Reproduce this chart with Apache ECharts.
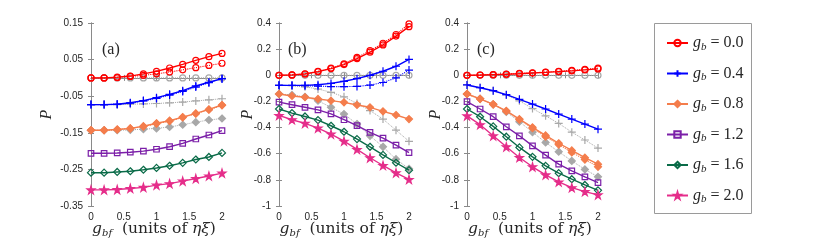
<!DOCTYPE html>
<html><head><meta charset="utf-8">
<script src="https://cdn.jsdelivr.net/npm/echarts@6/dist/echarts.min.js"></script>
<style>html,body{margin:0;padding:0;background:#fff}#c{width:830px;height:248px}</style>
</head><body><div id="c"></div>
<script>
const xs = [0, 0.2, 0.4, 0.6, 0.8, 1.0, 1.2, 1.4, 1.6, 1.8, 2.0];
const xTicks = ['0', '0.5', '1', '1.5', '2'];
const gbLabels = ['0.0', '0.4', '0.8', '1.2', '1.6', '2.0'];
const panelLabels = ['(a)', '(b)', '(c)'];

// Panel (a)
const a_g00 = [0, 0, 0.002, 0.005, 0.011, 0.018, 0.027, 0.037, 0.048, 0.058, 0.067];
const a_g00d = [0, 0, 0.001, 0.004, 0.007, 0.011, 0.016, 0.022, 0.028, 0.034, 0.040];
const a_g04 = [-0.073, -0.073, -0.072, -0.068, -0.062, -0.054, -0.045, -0.035, -0.022, -0.012, -0.002];
const a_g04d = [-0.073, -0.073, -0.072, -0.069, -0.063, -0.056, -0.047, -0.037, -0.025, -0.013, -0.002];
const a_g08 = [-0.143, -0.143, -0.141, -0.138, -0.132, -0.124, -0.117, -0.107, -0.097, -0.086, -0.074];
const a_g08d = [-0.143, -0.143, -0.141, -0.138, -0.133, -0.125, -0.118, -0.108, -0.098, -0.087, -0.075];
const a_g12 = [-0.206, -0.206, -0.205, -0.203, -0.200, -0.195, -0.188, -0.179, -0.167, -0.156, -0.144];
const a_g16 = [-0.259, -0.259, -0.257, -0.255, -0.251, -0.246, -0.240, -0.232, -0.223, -0.216, -0.205];
const a_g20 = [-0.306, -0.306, -0.305, -0.302, -0.299, -0.293, -0.289, -0.282, -0.275, -0.268, -0.260];
const a_grayC = [0, 0, 0, 0, 0, 0, 0, 0, 0, 0, 0];
const a_grayP = [-0.073, -0.073, -0.073, -0.072, -0.071, -0.070, -0.068, -0.066, -0.063, -0.060, -0.057];
const a_grayD = [-0.143, -0.143, -0.143, -0.142, -0.140, -0.138, -0.134, -0.128, -0.121, -0.115, -0.111];

// Panel (b)
const b_g00 = [0, 0.003, 0.010, 0.028, 0.051, 0.082, 0.128, 0.177, 0.232, 0.300, 0.372];
const b_g00d = [0, 0.003, 0.011, 0.030, 0.055, 0.088, 0.137, 0.188, 0.245, 0.312, 0.394];
const b_g04 = [-0.077, -0.077, -0.077, -0.072, -0.062, -0.046, -0.026, 0.000, 0.031, 0.069, 0.121];
const b_g04d = [-0.077, -0.078, -0.080, -0.083, -0.086, -0.087, -0.085, -0.075, -0.055, -0.020, 0.040];
const b_g08 = [-0.143, -0.158, -0.168, -0.181, -0.194, -0.207, -0.227, -0.245, -0.276, -0.304, -0.335];
const b_g12 = [-0.205, -0.225, -0.245, -0.265, -0.295, -0.340, -0.385, -0.437, -0.480, -0.534, -0.591];
const b_g16 = [-0.258, -0.289, -0.315, -0.343, -0.386, -0.432, -0.488, -0.547, -0.609, -0.669, -0.726];
const b_g20 = [-0.307, -0.340, -0.368, -0.404, -0.450, -0.504, -0.567, -0.631, -0.690, -0.746, -0.797];
const b_grayC = [0, 0, 0, 0, 0, 0, 0, 0, 0, 0, 0];
const b_grayP = [-0.077, -0.080, -0.088, -0.105, -0.130, -0.165, -0.215, -0.270, -0.335, -0.420, -0.505];
const b_grayD = [-0.143, -0.150, -0.165, -0.195, -0.245, -0.297, -0.373, -0.463, -0.547, -0.642, -0.715];

// Panel (c)
const c_g00 = [0, 0.002, 0.005, 0.008, 0.012, 0.017, 0.022, 0.028, 0.034, 0.041, 0.049];
const c_g00d = [0, 0.002, 0.005, 0.009, 0.014, 0.019, 0.025, 0.031, 0.038, 0.045, 0.055];
const c_g04 = [-0.074, -0.095, -0.118, -0.148, -0.184, -0.220, -0.258, -0.297, -0.335, -0.373, -0.412];
const c_g08 = [-0.143, -0.180, -0.222, -0.272, -0.335, -0.398, -0.460, -0.520, -0.575, -0.630, -0.680];
const c_g08d = [-0.143, -0.180, -0.222, -0.275, -0.340, -0.405, -0.470, -0.530, -0.590, -0.645, -0.700];
const c_g12 = [-0.202, -0.258, -0.317, -0.394, -0.463, -0.540, -0.611, -0.680, -0.731, -0.777, -0.821];
const c_g16 = [-0.258, -0.317, -0.391, -0.470, -0.552, -0.624, -0.693, -0.749, -0.795, -0.839, -0.880];
const c_g20 = [-0.310, -0.378, -0.463, -0.547, -0.629, -0.700, -0.762, -0.816, -0.860, -0.890, -0.915];
const c_grayC = [0, 0, 0, 0, 0, 0, 0, 0, 0, 0, 0];
const c_grayP = [-0.074, -0.095, -0.118, -0.150, -0.195, -0.255, -0.310, -0.368, -0.435, -0.495, -0.557];
const c_grayD = [-0.143, -0.180, -0.222, -0.280, -0.355, -0.435, -0.514, -0.585, -0.655, -0.720, -0.777];

const COLORS = ['#ff0000', '#0000ff', '#f47d4c', '#7b1fa8', '#0a6b48', '#e52d8a'];
const GRAY = '#a8a8a8';
const PLUS = 'path://M0,5L10,5M5,0L5,10';
const STAR = 'path://M50,0L61,35L98,35L68,57L79,91L50,70L21,91L32,57L2,35L39,35Z';
const SYM = [
  {symbol: 'circle', size: 6, open: true},
  {symbol: PLUS, size: 8, open: true},
  {symbol: 'diamond', size: 7, open: false},
  {symbol: 'rect', size: 5.5, open: true},
  {symbol: 'diamond', size: 7, open: true},
  {symbol: STAR, size: 8, open: false}
];
const NAMES = ['gb00', 'gb04', 'gb08', 'gb12', 'gb16', 'gb20'];

function pts(v) { return xs.map((x, i) => [x, v[i]]); }
function ser(name, vals, p, k, color, type, lw) {
  const s = SYM[k];
  return {
    name: name, type: 'line', xAxisIndex: 2 * p, yAxisIndex: 2 * p,
    data: pts(vals), symbol: s.symbol, symbolSize: s.size, showSymbol: true,
    lineStyle: {color: color, width: lw, type: type},
    itemStyle: {color: s.open ? 'rgba(255,255,255,0)' : color, borderColor: color, borderWidth: 1.2},
    emphasis: {disabled: true}, z: type === 'solid' ? 3 : 2
  };
}

const panels = [
  {main: [a_g00, a_g04, a_g08, a_g12, a_g16, a_g20], dots: [[0, a_g00d], [1, a_g04d], [2, a_g08d]], gray: [a_grayC, a_grayP, a_grayD], min: -0.35, max: 0.15, iv: 0.1},
  {main: [b_g00, b_g04, b_g08, b_g12, b_g16, b_g20], dots: [[0, b_g00d], [1, b_g04d]], gray: [b_grayC, b_grayP, b_grayD], min: -1, max: 0.4, iv: 0.2},
  {main: [c_g00, c_g04, c_g08, c_g12, c_g16, c_g20], dots: [[0, c_g00d], [2, c_g08d]], gray: [c_grayC, c_grayP, c_grayD], min: -1, max: 0.4, iv: 0.2}
];
const gridPos = [{left: 91, width: 131, pGap: 36, lab: 11}, {left: 279, width: 130, pGap: 23, lab: 9}, {left: 467, width: 131, pGap: 23, lab: 10}];

const serif = 'Liberation Serif';
const grids = [], xAxes = [], yAxes = [], series = [], titles = [];
const axisLineCol = '#8a8a8a';
panels.forEach((P, p) => {
  grids.push({left: gridPos[p].left, width: gridPos[p].width, top: 23, height: 183});
  xAxes.push({
    type: 'value', gridIndex: p, min: 0, max: 2, interval: 0.5, position: 'bottom',
    axisLine: {lineStyle: {color: axisLineCol}}, axisTick: {inside: true, length: 3, lineStyle: {color: axisLineCol}},
    splitLine: {show: false},
    axisLabel: {color: '#262626', fontSize: 10, fontFamily: 'Liberation Sans', margin: 6, formatter: v => xTicks[Math.round(v / 0.5)]},
    name: '{g|g}{s|bf}{n|  (units of }{g|ηξ}{n|)}', nameLocation: 'middle', nameGap: 14, nameMoveOverlap: false,
    nameTextStyle: {padding: [0, 5, 0, 0], rich: {
      g: {fontFamily: 'DejaVu Serif', fontStyle: 'italic', fontSize: 15.5, color: '#262626'},
      s: {fontFamily: 'DejaVu Serif', fontStyle: 'italic', fontSize: 10, color: '#262626', padding: [8, 0, 0, 0]},
      n: {fontFamily: 'DejaVu Serif', fontSize: 15.5, color: '#262626'}
    }}
  });
  xAxes.push({
    type: 'value', gridIndex: p, min: 0, max: 2, interval: 0.5, position: 'top',
    axisLine: {lineStyle: {color: axisLineCol}}, axisTick: {inside: true, length: 3, lineStyle: {color: axisLineCol}},
    axisLabel: {show: false}, splitLine: {show: false}
  });
  yAxes.push({
    type: 'value', gridIndex: p, min: P.min, max: P.max, interval: P.iv, position: 'left',
    axisLine: {show: true, lineStyle: {color: axisLineCol}}, axisTick: {show: true, inside: true, length: 3, lineStyle: {color: axisLineCol}},
    splitLine: {show: false},
    axisLabel: {color: '#262626', fontSize: 10, fontFamily: 'Liberation Sans', margin: 8, formatter: v => String(Math.round(v * 100) / 100)},
    name: 'P', nameLocation: 'middle', nameGap: gridPos[p].pGap, nameRotate: 90, nameMoveOverlap: false,
    nameTextStyle: {fontFamily: serif, fontStyle: 'italic', fontSize: 16, color: '#262626'}
  });
  yAxes.push({
    type: 'value', gridIndex: p, min: P.min, max: P.max, interval: P.iv, position: 'right',
    axisLine: {show: true, lineStyle: {color: axisLineCol}}, axisTick: {show: true, inside: true, length: 3, lineStyle: {color: axisLineCol}},
    axisLabel: {show: false}, splitLine: {show: false}
  });
  titles.push({text: panelLabels[p], left: gridPos[p].left + gridPos[p].lab, top: 42, padding: 0,
    textStyle: {fontFamily: serif, fontWeight: 'normal', fontSize: 16, color: '#262626'}});
  P.gray.forEach((g, k) => series.push(ser('gray' + p + k, g, p, k, GRAY, 'dotted', 1)));
  P.dots.forEach(([k, v]) => series.push(ser(NAMES[k] + 'd' + p, v, p, k, COLORS[k], 'dotted', 1.1)));
  P.main.forEach((v, k) => series.push(ser(NAMES[k], v, p, k, COLORS[k], 'solid', 1.4)));
});

const chart = echarts.init(document.getElementById('c'), null, {renderer: 'canvas'});
chart.setOption({
  animation: false,
  backgroundColor: '#fff',
  title: titles,
  grid: grids, xAxis: xAxes, yAxis: yAxes, series: series,
  graphic: [{type: 'rect', z: 0, shape: {x: 654.5, y: 23.5, width: 97, height: 190}, style: {fill: '#fff', stroke: '#9a9a9a', lineWidth: 1}}],
  legend: {
    data: NAMES, orient: 'vertical', left: 661, top: 30, itemWidth: 21, itemHeight: 8, itemGap: 13,
    selectedMode: false,
    formatter: n => '{g|g}{s|b}{n| = ' + gbLabels[NAMES.indexOf(n)] + '}',
    textStyle: {rich: {
      g: {fontFamily: serif, fontStyle: 'italic', fontSize: 16, color: '#262626'},
      s: {fontFamily: serif, fontStyle: 'italic', fontSize: 11, color: '#262626', padding: [8, 0, 0, 0]},
      n: {fontFamily: serif, fontSize: 16, color: '#262626'}
    }}
  }
});
</script></body></html>
